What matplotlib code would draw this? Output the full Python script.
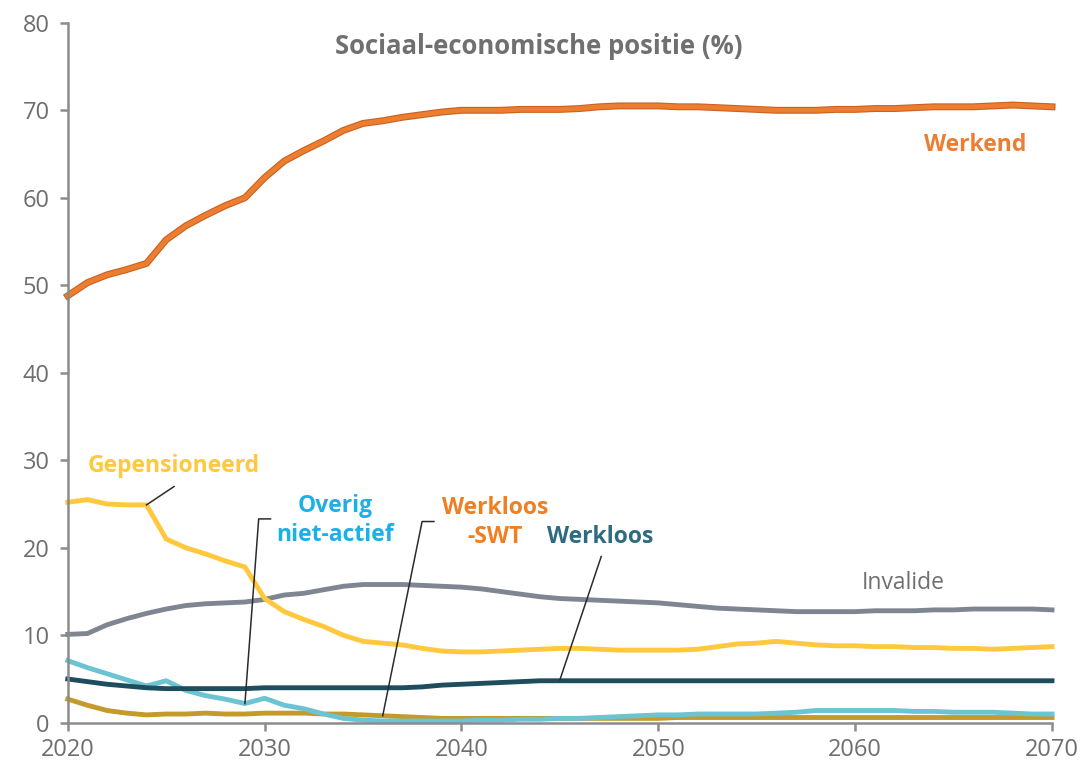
import matplotlib.pyplot as plt
import numpy as np

plt.rcParams['font.family'] = ['Open Sans', 'DejaVu Sans']

years = np.arange(2020, 2071)

werkend = [48.8, 50.3, 51.2, 51.8, 52.5, 55.2, 56.8, 58.0, 59.1, 60.0,
           62.3, 64.2, 65.4, 66.5, 67.7, 68.5, 68.8, 69.2, 69.5, 69.8,
           70.0, 70.0, 70.0, 70.1, 70.1, 70.1, 70.2, 70.4, 70.5, 70.5,
           70.5, 70.4, 70.4, 70.3, 70.2, 70.1, 70.0, 70.0, 70.0, 70.1,
           70.1, 70.2, 70.2, 70.3, 70.4, 70.4, 70.4, 70.5, 70.6, 70.5,
           70.4]
gepensioneerd = [25.2, 25.5, 25.0, 24.9, 24.9, 21.0, 20.0, 19.3, 18.5, 17.8,
                 14.2, 12.7, 11.8, 11.0, 10.0, 9.3, 9.1, 8.9, 8.5, 8.2,
                 8.1, 8.1, 8.2, 8.3, 8.4, 8.5, 8.5, 8.4, 8.3, 8.3,
                 8.3, 8.3, 8.4, 8.7, 9.0, 9.1, 9.3, 9.1, 8.9, 8.8,
                 8.8, 8.7, 8.7, 8.6, 8.6, 8.5, 8.5, 8.4, 8.5, 8.6,
                 8.7]
invalide = [10.1, 10.2, 11.2, 11.9, 12.5, 13.0, 13.4, 13.6, 13.7, 13.8,
            14.1, 14.6, 14.8, 15.2, 15.6, 15.8, 15.8, 15.8, 15.7, 15.6,
            15.5, 15.3, 15.0, 14.7, 14.4, 14.2, 14.1, 14.0, 13.9, 13.8,
            13.7, 13.5, 13.3, 13.1, 13.0, 12.9, 12.8, 12.7, 12.7, 12.7,
            12.7, 12.8, 12.8, 12.8, 12.9, 12.9, 13.0, 13.0, 13.0, 13.0,
            12.9]
werkloos = [5.0, 4.7, 4.4, 4.2, 4.0, 3.9, 3.9, 3.9, 3.9, 3.9,
            4.0, 4.0, 4.0, 4.0, 4.0, 4.0, 4.0, 4.0, 4.1, 4.3,
            4.4, 4.5, 4.6, 4.7, 4.8, 4.8, 4.8, 4.8, 4.8, 4.8,
            4.8, 4.8, 4.8, 4.8, 4.8, 4.8, 4.8, 4.8, 4.8, 4.8,
            4.8, 4.8, 4.8, 4.8, 4.8, 4.8, 4.8, 4.8, 4.8, 4.8,
            4.8]
overig = [7.1, 6.3, 5.6, 4.9, 4.2, 4.8, 3.7, 3.1, 2.7, 2.2,
          2.8, 2.0, 1.6, 1.0, 0.5, 0.3, 0.2, 0.2, 0.2, 0.2,
          0.2, 0.3, 0.3, 0.4, 0.4, 0.5, 0.5, 0.6, 0.7, 0.8,
          0.9, 0.9, 1.0, 1.0, 1.0, 1.0, 1.1, 1.2, 1.4, 1.4,
          1.4, 1.4, 1.4, 1.3, 1.3, 1.2, 1.2, 1.2, 1.1, 1.0,
          1.0]
swt = [2.7, 2.0, 1.4, 1.1, 0.9, 1.0, 1.0, 1.1, 1.0, 1.0,
       1.1, 1.1, 1.1, 1.0, 1.0, 0.9, 0.8, 0.7, 0.6, 0.5,
       0.5, 0.5, 0.5, 0.5, 0.5, 0.5, 0.5, 0.5, 0.5, 0.5,
       0.5, 0.6, 0.6, 0.6, 0.6, 0.6, 0.6, 0.6, 0.6, 0.6,
       0.6, 0.6, 0.6, 0.6, 0.6, 0.6, 0.6, 0.6, 0.6, 0.6,
       0.6]

fig = plt.figure(figsize=(10.84, 7.6), dpi=100)
ax = fig.add_axes([0.0625, 0.049, 0.908, 0.921])

lw = 3.5
ax.plot(years, swt, color="#C49A2A", lw=lw, clip_on=False)
ax.plot(years, overig, color="#6CC3D2", lw=lw, clip_on=False)
ax.plot(years, werkloos, color="#1E4D5E", lw=lw, clip_on=False)
ax.plot(years, invalide, color="#7F8691", lw=lw, clip_on=False)
ax.plot(years, gepensioneerd, color="#FFC83D", lw=lw, clip_on=False)
ax.plot(years, werkend, color="#C8621F", lw=5.0, clip_on=False)
ax.plot(years, werkend, color="#ED7D31", lw=3.4, clip_on=False)

ax.set_xlim(2020, 2070)
ax.set_ylim(0, 80)
ax.set_xticks(range(2020, 2071, 10))
ax.set_yticks(range(0, 81, 10))

for s in ["top", "right"]:
    ax.spines[s].set_visible(False)
for s in ["left", "bottom"]:
    ax.spines[s].set_color("#8C8C8C")
    ax.spines[s].set_linewidth(1.8)
ax.tick_params(axis="both", colors="#8C8C8C", length=6, width=1.8,
               labelsize=17, labelcolor="#6E6E6E")
ax.tick_params(axis="x", pad=5)
ax.tick_params(axis="y", pad=7)

ax.text(0.479, 0.966, "Sociaal-economische positie (%)", transform=ax.transAxes,
        ha="center", va="center", fontsize=18.5, fontweight="bold", color="#707070")

lab = dict(ha="center", va="center", fontsize=16.5, fontweight="bold")
ax.text(2066.1, 66.0, "Werkend", color="#ED7D31", **lab)
ax.text(2025.4, 29.3, "Gepensioneerd", color="#FFC83D", **lab)
ax.text(2033.6, 23.1, "Overig\nniet-actief", color="#1CB0E6", linespacing=1.3, **lab)
ax.text(2041.7, 22.9, "Werkloos\n-SWT", color="#F07F22", linespacing=1.3, **lab)
ax.text(2047.05, 21.2, "Werkloos", color="#2E6B7E", **lab)
ax.text(2062.45, 16.0, "Invalide", color="#707070", ha="center", va="center", fontsize=16.5)

lc = dict(color="#2B2B2B", lw=1.1)
ax.plot([2024.0, 2025.4], [24.9, 27.0], **lc)
ax.plot([2029.0, 2029.7, 2030.3], [2.2, 23.3, 23.3], **lc)
ax.plot([2036.0, 2038.0, 2038.6], [0.8, 23.0, 23.0], **lc)
ax.plot([2045.0, 2047.1], [4.9, 19.0], **lc)

plt.savefig("out.png", dpi=100)
